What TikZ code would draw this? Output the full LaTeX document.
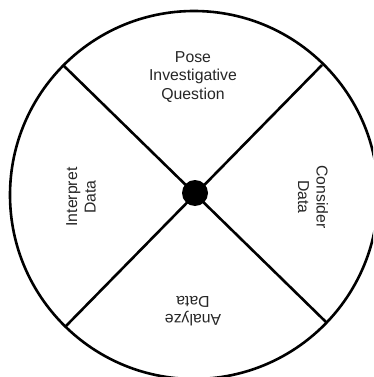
\documentclass[tikz,border=0pt]{standalone}
\usepackage{fontspec}
\setmainfont{Liberation Sans}
\begin{document}
\begin{tikzpicture}[x=1pt,y=-1pt,
  lbl/.style={align=center,inner sep=0pt,text=black!85,font=\fontsize{15.8}{18.3}\selectfont},
  ln/.style={line width=2.6pt}]
\useasboundingbox (0,0) rectangle (373,377);
\begin{scope}
\clip (0,0) rectangle (373,377);
\coordinate (c) at (194,195);
\draw[ln] (c) circle[radius=184];
\coordinate (ul) at (63,65);
\coordinate (lr) at (327,323);
\coordinate (ur) at (322,65);
\coordinate (ll) at (65,327);
\draw[ln] (ul) -- (lr);
\draw[ln] (ur) -- (ll);
\fill (195,193) circle[radius=13];
\end{scope}
\node[lbl] (top) at (193,77) {Pose\\Investigative\\Question};
\node[lbl,rotate=90] (left) at (81,197) {Interpret\\Data};
\node[lbl,rotate=-90] (right) at (313,197) {Consider\\Data};
\node[lbl,rotate=180] (bottom) at (193,311) {Analyze\\Data};
\end{tikzpicture}
\end{document}
